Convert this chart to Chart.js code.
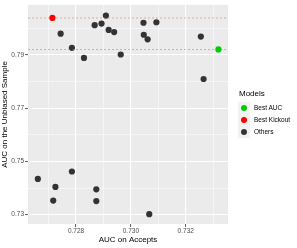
<!DOCTYPE html>
<html><head><meta charset="utf-8">
<script src="https://cdn.jsdelivr.net/npm/chart.js@4"></script>
<style>
html,body{margin:0;padding:0;background:#fff;}
#wrap{position:relative;width:297px;height:248px;font-family:"Liberation Sans",Arial,sans-serif;}
canvas{position:absolute;left:0;top:0;}
.lg{position:absolute;font-size:6.5px;color:#000;white-space:nowrap;}
.key{position:absolute;width:12px;height:12px;background:#F2F2F2;}
.dot{position:absolute;left:3px;top:3px;width:6px;height:6px;border-radius:50%;}
</style></head>
<body><div id="wrap"><canvas id="c" width="297" height="248"></canvas>
<div class="lg" style="left:239px;top:89px;font-size:8px;">Models</div>
<div class="key" style="left:238px;top:102px;"><div class="dot" style="background:#00CD00"></div></div>
<div class="lg" style="left:254px;top:104px;">Best AUC</div>
<div class="key" style="left:238px;top:114px;"><div class="dot" style="background:#FF0000"></div></div>
<div class="lg" style="left:254px;top:116px;">Best Kickout</div>
<div class="key" style="left:238px;top:126px;"><div class="dot" style="background:#333333"></div></div>
<div class="lg" style="left:254px;top:128px;">Others</div>
</div>
<script>
const othersX = [0.72744, 0.72785, 0.72829, 0.72868, 0.72893, 0.72909, 0.72919, 0.72939, 0.72963, 0.73046, 0.73047, 0.73061, 0.73093, 0.73255, 0.73265, 0.72661, 0.72725, 0.72717, 0.72785, 0.72874, 0.72874, 0.73067];
const othersY = [0.7979, 0.7926, 0.7888, 0.8011, 0.8017, 0.8047, 0.7993, 0.7985, 0.7901, 0.8020, 0.7975, 0.7958, 0.8022, 0.7968, 0.7809, 0.7434, 0.7404, 0.7353, 0.7462, 0.7395, 0.7351, 0.7302];
const bestAucX = [0.73319], bestAucY = [0.7920];
const bestKickX = [0.72714], bestKickY = [0.8038];
const xTicks = [0.727, 0.728, 0.729, 0.730, 0.731, 0.732, 0.733];
const xLabels = ['', '0.728', '', '0.730', '', '0.732', ''];
const yTicks = [0.73, 0.74, 0.75, 0.76, 0.77, 0.78, 0.79, 0.80];
const yLabels = ['0.73', '', '0.75', '', '0.77', '', '0.79', ''];
const xMin = 0.72625, xMax = 0.73354, yMin = 0.7265, yMax = 0.8087;

const pts = (xs, ys) => xs.map((x, i) => ({x, y: ys[i]}));
const labelOf = (vals, labs, v) => { const i = vals.findIndex(t => Math.abs(t - v) < 1e-9); return i < 0 ? '' : labs[i]; };

const bgPlugin = {
  id: 'bg',
  beforeDraw(chart) {
    const a = chart.chartArea, c = chart.ctx;
    c.save(); c.fillStyle = '#EBEBEB'; c.fillRect(a.left, a.top, a.right - a.left, a.bottom - a.top); c.restore();
  }
};

function gridOpts(vals, labs) {
  return {
    color: '#FFFFFF',
    lineWidth: ctx => (ctx.tick && labelOf(vals, labs, ctx.tick.value) !== '') ? 1.1 : 0.5,
    tickColor: ctx => (ctx.tick && labelOf(vals, labs, ctx.tick.value) !== '') ? '#333333' : 'rgba(0,0,0,0)',
    tickLength: 3,
    tickWidth: 0.8,
    drawOnChartArea: true
  };
}

new Chart(document.getElementById('c'), {
  type: 'scatter',
  data: {
    datasets: [
      {type: 'line', data: [{x: xMin, y: bestKickY[0]}, {x: xMax, y: bestKickY[0]}], borderColor: 'rgba(255,60,60,0.55)', borderWidth: 0.8, borderDash: [2, 2], pointRadius: 0, fill: false},
      {type: 'line', data: [{x: xMin, y: bestAucY[0]}, {x: xMax, y: bestAucY[0]}], borderColor: 'rgba(40,180,40,0.55)', borderWidth: 0.8, borderDash: [2, 2], pointRadius: 0, fill: false},
      {label: 'Others', data: pts(othersX, othersY), backgroundColor: '#333333', borderWidth: 0, pointRadius: 3.1},
      {label: 'Best AUC', data: pts(bestAucX, bestAucY), backgroundColor: '#00CD00', borderWidth: 0, pointRadius: 3.1},
      {label: 'Best Kickout', data: pts(bestKickX, bestKickY), backgroundColor: '#FF0000', borderWidth: 0, pointRadius: 3.1}
    ]
  },
  options: {
    responsive: false, animation: false, devicePixelRatio: 1,
    layout: {padding: {left: 0, right: 69, top: 3, bottom: 0}},
    plugins: {legend: {display: false}, tooltip: {enabled: false}},
    scales: {
      x: {
        type: 'linear', min: xMin, max: xMax,
        afterBuildTicks: s => { s.ticks = xTicks.map(v => ({value: v})); },
        afterFit: s => { s.height = 24; },
        ticks: {callback: v => labelOf(xTicks, xLabels, v), color: '#4D4D4D', font: {family: 'Liberation Sans', size: 6.5}, padding: 0, maxRotation: 0, autoSkip: false},
        grid: gridOpts(xTicks, xLabels),
        border: {display: false},
        title: {display: true, text: 'AUC on Accepts', color: '#000', font: {family: 'Liberation Sans', size: 8}, padding: {top: 0, bottom: 3}}
      },
      y: {
        type: 'linear', min: yMin, max: yMax,
        afterBuildTicks: s => { s.ticks = yTicks.map(v => ({value: v})); },
        afterFit: s => { s.width = 28; },
        ticks: {callback: v => labelOf(yTicks, yLabels, v), color: '#4D4D4D', font: {family: 'Liberation Sans', size: 6.5}, padding: 1, autoSkip: false},
        grid: gridOpts(yTicks, yLabels),
        border: {display: false},
        title: {display: true, text: 'AUC on the Unbiased Sample', color: '#000', font: {family: 'Liberation Sans', size: 8}, padding: {top: 0, bottom: 1}}
      }
    }
  },
  plugins: [bgPlugin]
});
</script></body></html>
